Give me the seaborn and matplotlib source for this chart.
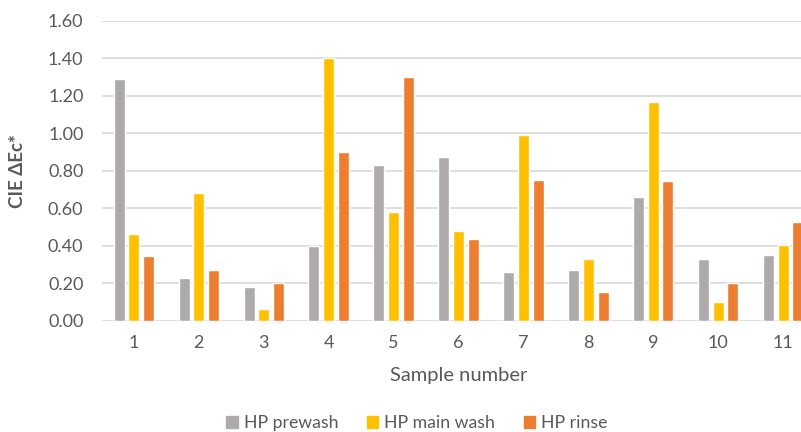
import pandas as pd
import numpy as np
import seaborn as sns
import matplotlib
matplotlib.use("Agg")
import matplotlib.pyplot as plt

samples = ['1', '2', '3', '4', '5', '6', '7', '8', '9', '10', '11']
prewash = [1.29, 0.23, 0.18, 0.40, 0.83, 0.875, 0.26, 0.27, 0.66, 0.33, 0.35]
main_wash = [0.46, 0.68, 0.06, 1.40, 0.58, 0.48, 0.99, 0.33, 1.165, 0.10, 0.405]
rinse = [0.345, 0.27, 0.20, 0.90, 1.30, 0.435, 0.75, 0.155, 0.745, 0.20, 0.525]
series_names = ['HP prewash', 'HP main wash', 'HP rinse']
colors = ['#AEAAAA', '#FFC000', '#ED7D31']

rows = []
for name, vals in zip(series_names, [prewash, main_wash, rinse]):
    for s, v in zip(samples, vals):
        rows.append({'sample': s, 'series': name, 'value': v})
df = pd.DataFrame(rows)

sns.set_style('white')
plt.rcParams['font.family'] = ['Lato', 'DejaVu Sans']
txt = '#595959'

fig = plt.figure(figsize=(8.01, 4.32), dpi=100)
ax = fig.add_axes([101.5 / 801, 111.3 / 432, 714 / 801, 300 / 432])

sns.barplot(data=df, x='sample', y='value', hue='series', order=samples,
            hue_order=series_names, palette=colors, width=0.68, gap=0.25,
            errorbar=None, saturation=1, ax=ax, zorder=3)

ax.set_ylim(0, 1.6)
ax.set_yticks(np.arange(0, 1.61, 0.2))
ax.set_yticklabels([f'{v:.2f}' for v in np.arange(0, 1.61, 0.2)])
ax.set_xlim(-0.5, len(samples) - 0.5)
ax.grid(axis='y', color='#d9d9d9', linewidth=1.2, zorder=0)
ax.set_axisbelow(True)
for sp in ax.spines.values():
    sp.set_visible(False)
ax.tick_params(axis='both', length=0, labelsize=13, colors=txt)
ax.tick_params(axis='x', pad=10)
ax.tick_params(axis='y', pad=13)

ax.set_xlabel('Sample number', fontsize=14.5, color=txt, labelpad=12)
ax.set_ylabel('CIE ΔEc*', fontsize=13.5, color=txt, fontweight='bold', labelpad=16)

ax.legend_.remove()
handles = [plt.Rectangle((0, 0), 1, 1, color=c) for c in colors]
fig.legend(handles, series_names, loc='center', bbox_to_anchor=(417 / 801, 1 - 423 / 432),
           ncol=3, frameon=False, fontsize=12.7, handlelength=0.65, handleheight=0.65,
           handletextpad=0.35, columnspacing=1.6, labelcolor=txt)

plt.savefig('out.png', dpi=100)
